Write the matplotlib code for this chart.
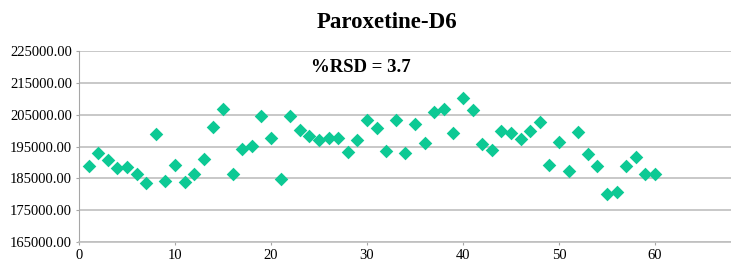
import matplotlib.pyplot as plt

# injection number and peak area
injection = list(range(1, 61))
area = [188900, 192860, 190770, 188160, 188580, 186490, 183570, 199020, 184200, 189100,
        183780, 186490, 191190, 201100, 206740, 186290, 194320, 195050, 204550, 197560,
        184930, 204550, 200270, 198290, 196930, 197760, 197760, 193170, 196930, 203190,
        200690, 193490, 203300, 193070, 201940, 196200, 205900, 206740, 199120, 210180,
        206320, 195780, 194010, 199960, 199120, 197450, 199960, 202770, 189310, 196410,
        187430, 199640, 192760, 189000, 180130, 180650, 189000, 191610, 186490, 186490]
y_ticks = [165000, 175000, 185000, 195000, 205000, 215000, 225000]
x_ticks = [0, 10, 20, 30, 40, 50, 60]
title = 'Paroxetine-D6'
rsd_label = '%RSD = 3.7'

plt.rcParams['font.family'] = ['Liberation Serif', 'DejaVu Serif']

fig = plt.figure(figsize=(7.31, 2.64), dpi=100)
ax = fig.add_axes([79/731, 21.7/264, 672/731, 191.6/264])

ax.scatter(injection, area, marker='D', s=48, color='#0DC994', zorder=3, linewidths=0)

ax.set_xlim(0, 70)
ax.set_ylim(165000, 225000)
ax.set_yticks(y_ticks)
ax.set_yticklabels(['%.2f' % v for v in y_ticks])
ax.set_xticks(x_ticks)
ax.grid(axis='y', color='#BFBFBF', linewidth=1.2)
ax.set_axisbelow(True)
for s in ['top', 'right']:
    ax.spines[s].set_visible(False)
ax.spines['left'].set_color('#A6A6A6')
ax.spines['bottom'].set_color('#BFBFBF')
ax.spines['bottom'].set_linewidth(1.2)
ax.tick_params(axis='both', labelsize=10.5, color='#A6A6A6', length=2.5, pad=2.5)

fig.text(387/731, 1 - 22/264, title, ha='center', va='center', fontsize=16.5, fontweight='bold')
fig.text(361/731, 1 - 67/264, rsd_label, ha='center', va='center', fontsize=13.5, fontweight='bold')

fig.savefig('out.png', dpi=100)
